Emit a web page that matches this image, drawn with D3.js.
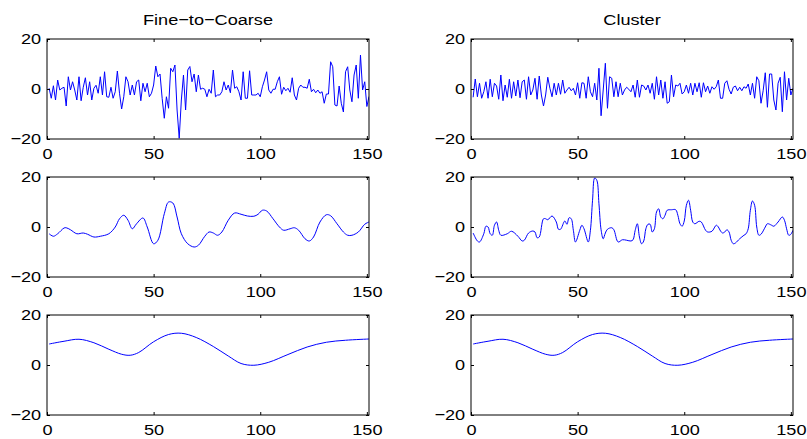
<!DOCTYPE html>
<html>
<head>
<meta charset="utf-8">
<script src="https://cdn.jsdelivr.net/npm/d3@7"></script>
<style>
  body { margin: 0; background: #fff; }
  svg { display: block; }
</style>
</head>
<body>
<div id="chart"></div>
<script>
// size of page
var width = 807;
var height = 439;

// panel titles
var titles = ["Fine\u2212to\u2212Coarse", "Cluster"];

// tick values shared by all panels
var xTicks = [0, 50, 100, 150];
var yTicks = [-20, 0, 20];

// top row, fine scale (one value per sample, x = 1..151)
var ftcFine = [
  0.3, -3.7, 1.3, -4.4, 3.6, -0.4, 0.3, 0.7, -6.8, 4.9,
  -0.4, 2.9, -0.4, -4.4, 4.9, -4.7, 0.7, 4.5, -2.4, 2.9,
  -4.4, 0.3, 1.5, -1.7, 4.9, -2.4, 6.9, -3.1, -3.3, 0.7,
  -3.7, -1.1, 7.2, -1.7, -8.0, -3.1, 4.9, 2.9, -2.4, 1.6,
  -2.4, 2.9, 3.6, -4.7, 2.3, -1.1, 2.3, -3.1, -1.7, 1.6,
  9.2, 4.9, 6.0, -3.7, -11.7, -3.1, -7.7, 8.3, 6.9, 9.6,
  -8.4, -19.7, -4.4, 5.6, -8.4, 7.6, 9.0, 2.9, 6.0, -1.1,
  5.6, -0.1, 0.3, -0.1, -3.1, -0.1, -1.7, 7.6, -3.1, -2.4,
  -2.4, -1.1, 2.9, -0.4, 1.6, -1.5, 7.6, 0.3, 0.9, -1.1,
  -4.4, 6.9, -3.7, -3.7, 7.3, -2.4, -2.4, -2.4, -1.7, -3.1,
  0.9, 3.6, 6.9, -0.4, -1.7, -0.1, -0.1, 2.9, 4.9, -2.1,
  0.7, -0.7, 0.3, -1.3, 4.5, -2.4, -4.4, 0.3, 1.6, 0.7,
  0.7, 0.3, 3.9, -1.1, -0.1, -1.5, -0.4, -1.7, -1.1, -5.7,
  -2.0, -2.0, 10.9, 8.9, -6.4, -6.8, 1.2, -5.7, -9.2, 6.9,
  8.9, -0.4, -5.1, 5.6, 9.6, -3.7, 13.6, -0.4, 2.9, -7.0,
  -3.0
];

var clusterFine = [
  -3.3, 4.0, -3.1, 2.3, -3.7, -1.1, 2.9, -3.7, 3.9, -3.1,
  2.3, 1.2, -4.1, 5.6, -4.7, 1.6, -3.3, 3.9, -3.7, 2.9,
  -2.8, 3.6, -3.5, 2.9, 3.6, -4.1, 4.9, -2.4, -0.4, 4.3,
  -4.1, 5.2, -2.4, -6.8, -2.4, 4.7, 0.3, -3.1, 2.3, -2.4,
  2.3, -2.1, 3.6, -1.7, -0.4, 0.7, -0.7, 0.3, -2.4, 2.5,
  -3.7, 2.5, 2.3, -3.7, 4.9, -1.1, -3.1, 2.3, -4.4, 8.3,
  -10.7, -0.4, 10.3, -7.7, 4.9, 4.3, -3.1, 2.9, -3.1, 2.3,
  -2.4, -0.4, 0.7, -0.1, -1.1, 1.6, -3.3, 3.6, -3.3, 1.6,
  1.2, -0.4, 1.6, -1.7, 2.3, -4.1, 4.9, -2.4, 3.6, -3.7,
  2.9, -5.7, -5.1, 5.6, -3.1, 1.6, 1.2, 2.3, -2.0, -1.1,
  1.6, -1.7, 2.3, -2.4, 2.3, -1.1, 2.5, -3.3, 2.5, -1.1,
  1.2, -1.7, 0.9, -0.1, 0.9, 3.6, -3.7, -3.7, 2.3, 3.3,
  -0.1, -2.0, 0.7, 1.2, -0.7, 0.7, -0.7, 0.9, 0.3, 2.0,
  -2.4, 2.3, -3.7, 4.9, 3.3, -5.7, -0.7, 6.5, -7.3, 6.0,
  6.0, -4.4, -8.4, 2.3, 4.7, -9.1, 6.9, -4.4, 4.3, -2.4,
  0.3
];

// middle row, smooth curves read at turning points
var ftcMidX = [1, 3, 5, 8, 9, 11, 14, 17, 19, 22, 25, 29, 32, 34, 36, 38, 40, 42, 45, 47,
  50, 52, 55, 57, 59, 61, 63, 66, 69, 71, 74, 76, 78, 80, 82, 85, 88, 91, 94, 97,
  99, 101, 103, 106, 109, 111, 114, 116, 118, 121, 123, 125, 128, 131, 133, 136, 139, 141, 143, 146,
  149, 151];
var ftcMidY = [-2.7, -3.7, -2.7, -0.4, -0.3, -1.1, -2.7, -2.4, -2.9, -4.0, -3.7, -2.7, 0.0, 3.3, 4.7, 2.7, -0.7, 1.3, 3.6, 0.0,
  -6.7, -5.3, 5.3, 10.0, 9.6, 4.0, -2.7, -6.7, -8.0, -7.3, -3.7, -2.0, -2.4, -3.3, -2.0, 2.7, 5.6, 5.1, 4.4, 4.3,
  5.1, 6.7, 6.4, 3.3, 0.0, -1.3, -0.7, -0.3, -1.3, -4.7, -5.6, -4.0, 2.0, 4.9, 4.5, 1.3, -2.0, -3.3, -3.3, -2.0,
  1.1, 2.0];

var clusterMidX = [1, 3, 4, 6, 7, 8, 9, 10, 11, 12, 13, 14, 17, 19, 22, 24, 25, 27, 29, 30,
  31, 32, 34, 35, 36, 38, 40, 41, 42, 44, 45, 46, 47, 48, 49, 51, 52, 53, 55, 56,
  57, 58, 59, 60, 61, 62, 63, 64, 66, 67, 69, 71, 73, 75, 76, 77, 78, 79, 80, 81,
  82, 83, 84, 85, 86, 87, 88, 89, 90, 91, 92, 94, 96, 97, 98, 99, 100, 101, 102, 103,
  104, 105, 107, 108, 110, 111, 113, 115, 116, 117, 118, 119, 120, 121, 122, 123, 124, 126, 128, 129,
  130, 131, 132, 133, 134, 135, 136, 138, 139, 141, 142, 144, 146, 147, 148, 149, 150, 151];
var clusterMidY = [-2.4, -5.6, -6.0, -2.7, 0.3, 0.0, -2.7, -3.3, 0.7, 2.0, -1.3, -3.3, -2.7, -1.7, -3.7, -5.6, -5.3, -2.4, -1.6, -2.0,
  -4.3, -4.0, 3.3, 3.3, 2.9, 4.4, 2.0, -0.9, -0.9, 2.4, 1.1, 3.7, 3.3, -1.3, -6.0, -1.3, 0.7, -0.7, -6.0, -1.3,
  10.7, 19.6, 18.7, 9.3, -1.1, -4.7, -2.4, -0.9, -0.3, -1.1, -6.0, -5.1, -5.3, -5.6, -5.1, -1.3, 1.3, -4.0, -6.7, -5.6,
  -0.7, 1.1, 1.1, -2.0, -0.7, 6.0, 7.3, 4.0, 3.3, 4.7, 6.7, 6.9, 6.9, 4.7, 1.3, 0.3, 2.4, 8.7, 10.7, 6.7,
  2.0, 1.3, 2.3, 2.0, -1.3, -2.0, -1.7, 0.7, 0.0, -1.6, -2.4, -2.0, -1.1, -2.0, -5.3, -6.7, -6.4, -4.7, -3.3, -2.7,
  -0.7, 6.7, 10.4, 8.7, 0.0, -3.3, -2.9, 0.0, 1.3, 0.7, 0.3, 2.0, 4.0, 2.7, -0.7, -3.3, -2.9, -1.3];

// bottom row, coarse scale (same in both columns)
var coarseX = [1, 8, 15, 22, 29, 35, 39, 43, 50, 57, 63, 70, 78, 85, 91, 97, 104, 113, 122, 131, 140, 151];
var coarseY = [8.4, 9.5, 10.3, 8.9, 6.3, 4.3, 3.9, 5.0, 9.3, 12.2, 12.7, 11.0, 7.4, 3.6, 0.6, -0.1, 1.1, 4.2, 7.2, 9.1, 9.9, 10.4];

// turn a value list into points, x counts from 1
function sampled(values) {
    return values.map(function (v, i) { return [i + 1, v]; });
}
function knots(xs, ys) {
    return xs.map(function (x, i) { return [x, ys[i]]; });
}

var panels = [
    { col: 0, row: 0, pts: sampled(ftcFine), smooth: false, title: titles[0] },
    { col: 1, row: 0, pts: sampled(clusterFine), smooth: false, title: titles[1] },
    { col: 0, row: 1, pts: knots(ftcMidX, ftcMidY), smooth: true },
    { col: 1, row: 1, pts: knots(clusterMidX, clusterMidY), smooth: true },
    { col: 0, row: 2, pts: knots(coarseX, coarseY), smooth: true },
    { col: 1, row: 2, pts: knots(coarseX, coarseY), smooth: true }
];

var colLeft = [47, 471];
var rowTop = [39, 177, 315];
var pw = 322, ph = 100;
var font = "'Liberation Sans', Arial, Helvetica, sans-serif";
var fontSize = 15.5;
var stretch = "scale(1.17,1)";   // text in the picture is a bit wide

var svg = d3.select("#chart")
    .append("svg")
    .attr("width", width)
    .attr("height", height);

var x = d3.scaleLinear().domain([0, 151]).range([0, pw]);
var y = d3.scaleLinear().domain([-20, 20]).range([ph, 0]);

panels.forEach(function (p, i) {
    var g = svg.append("g")
        .attr("transform", "translate(" + colLeft[p.col] + "," + rowTop[p.row] + ")");

    g.append("clipPath")
        .attr("id", "clip" + i)
        .append("rect")
        .attr("width", pw)
        .attr("height", ph);

    // data line
    var line = d3.line()
        .x(function (d) { return x(d[0]); })
        .y(function (d) { return y(d[1]); });
    if (p.smooth) line.curve(d3.curveCatmullRom.alpha(0.5));

    g.append("path")
        .datum(p.pts)
        .attr("clip-path", "url(#clip" + i + ")")
        .attr("d", line)
        .attr("fill", "none")
        .attr("stroke", "#0000ff")
        .attr("stroke-width", 1);

    // axes, ticks point inward like matlab
    var bottom = g.append("g").attr("transform", "translate(0," + ph + ")")
        .call(d3.axisBottom(x).tickValues(xTicks).tickSizeInner(-3).tickSizeOuter(0).tickPadding(9));
    var top = g.append("g")
        .call(d3.axisTop(x).tickValues(xTicks).tickSizeInner(-3).tickSizeOuter(0).tickFormat(""));
    var left = g.append("g")
        .call(d3.axisLeft(y).tickValues(yTicks).tickSizeInner(-3).tickSizeOuter(0).tickPadding(5));
    var right = g.append("g").attr("transform", "translate(" + pw + ",0)")
        .call(d3.axisRight(y).tickValues(yTicks).tickSizeInner(-3).tickSizeOuter(0).tickFormat(""));

    [bottom, top, left, right].forEach(function (a) {
        a.select(".domain").remove();
        a.selectAll("line").attr("stroke", "#000");
        a.selectAll("text")
            .attr("font-family", font)
            .attr("font-size", fontSize)
            .attr("fill", "#000")
            .attr("transform", stretch);
    });

    // box
    g.append("rect")
        .attr("x", 0)
        .attr("y", 0)
        .attr("width", pw)
        .attr("height", ph)
        .attr("fill", "none")
        .attr("stroke", "#000")
        .attr("stroke-width", 1);

    if (p.title) {
        g.append("text")
            .attr("transform", "translate(" + (pw / 2) + ",-14) " + stretch)
            .attr("text-anchor", "middle")
            .attr("font-family", font)
            .attr("font-size", fontSize)
            .text(p.title);
    }
});
</script>
</body>
</html>
